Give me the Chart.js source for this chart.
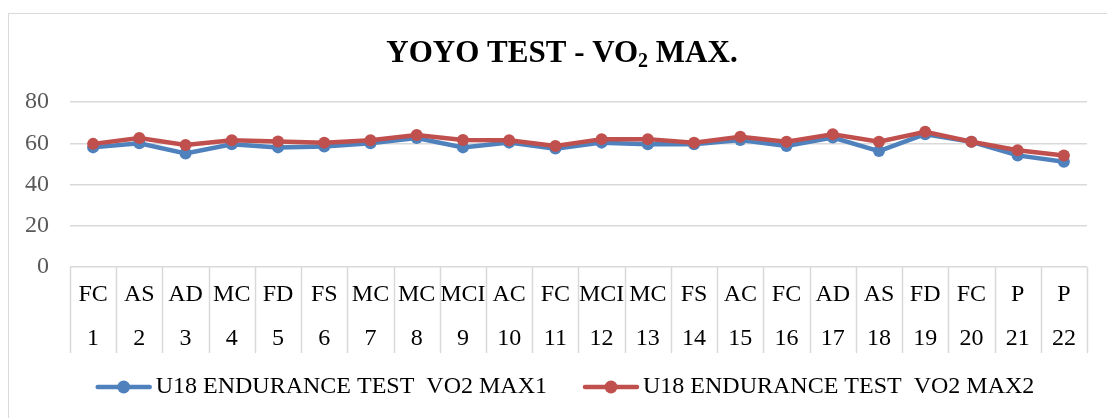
<!DOCTYPE html>
<html>
<head>
<meta charset="utf-8">
<script src="https://cdn.jsdelivr.net/npm/chart.js@4"></script>
<style>
  html, body { margin: 0; padding: 0; background: #fff; overflow: hidden; }
  #wrap { position: relative; width: 1107px; height: 418px; }
  #frame { position: absolute; left: 8px; top: 13px; width: 1200px; height: 500px; border: 1px solid #d9d9d9; }
  #chart { position: absolute; left: 0; top: 0; }
</style>
</head>
<body>
<div id="wrap">
  <div id="frame"></div>
  <canvas id="chart" width="1107" height="418"></canvas>
</div>
<script>
// Data
const positions = ['FC', 'AS', 'AD', 'MC', 'FD', 'FS', 'MC', 'MC', 'MCI', 'AC', 'FC',
  'MCI', 'MC', 'FS', 'AC', 'FC', 'AD', 'AS', 'FD', 'FC', 'P', 'P'];
const players = ['1', '2', '3', '4', '5', '6', '7', '8', '9', '10', '11',
  '12', '13', '14', '15', '16', '17', '18', '19', '20', '21', '22'];
const vo2Max1 = [58, 60, 55, 59.5, 58, 58.4, 60, 62.5, 58, 60.3, 57.4,
  60.3, 59.5, 59.5, 61.6, 58.7, 62.8, 56.2, 64.4, 60.7, 54.1, 51];
const vo2Max2 = [59.7, 62.5, 59.2, 61.5, 60.8, 60.3, 61.5, 64, 61.6, 61.5, 58.7,
  62, 62, 60.3, 63.1, 60.7, 64.4, 60.7, 65.6, 60.7, 56.6, 54.1];
const yTicks = [0, 20, 40, 60, 80];

const FONT = '"Liberation Serif", "Times New Roman", serif';
const BLUE = '#4f81bd';
const RED = '#c0504d';
const GRID = '#d9d9d9';

const labels = positions.map((p, i) => [p, players[i]]);

// Title with subscript 2
const titlePlugin = {
  id: 'titleSub',
  afterDraw(chart) {
    const ctx = chart.ctx;
    const parts = [
      { t: 'YOYO TEST - VO', size: 31, dy: 0 },
      { t: '2', size: 20, dy: 5 },
      { t: ' MAX.', size: 31, dy: 0 }
    ];
    ctx.save();
    ctx.fillStyle = '#000';
    ctx.textBaseline = 'alphabetic';
    let total = 0;
    parts.forEach(p => {
      ctx.font = `bold ${p.size}px ${FONT}`;
      p.w = ctx.measureText(p.t).width;
      total += p.w;
    });
    let x = 562 - total / 2;
    parts.forEach(p => {
      ctx.font = `bold ${p.size}px ${FONT}`;
      ctx.fillText(p.t, x, 62 + p.dy);
      x += p.w;
    });
    ctx.restore();
  }
};

// Vertical separators in the category label area
const separatorPlugin = {
  id: 'separators',
  afterDraw(chart) {
    const xs = chart.scales.x;
    const ctx = chart.ctx;
    const step = xs.getPixelForValue(1) - xs.getPixelForValue(0);
    const x0 = xs.getPixelForValue(0) - step / 2;
    ctx.save();
    ctx.strokeStyle = GRID;
    ctx.lineWidth = 1.5;
    for (let i = 0; i <= labels.length; i++) {
      const x = Math.round(x0 + i * step) + 0.5;
      ctx.beginPath();
      ctx.moveTo(x, xs.top);
      ctx.lineTo(x, xs.bottom);
      ctx.stroke();
    }
    ctx.restore();
  }
};

// Legend: line with circle marker, then label
const legendPlugin = {
  id: 'lineLegend',
  afterDraw(chart) {
    const ctx = chart.ctx;
    const sets = chart.data.datasets;
    const lineLen = 56, textGap = 4, itemGap = 36, y = 387;
    ctx.save();
    ctx.font = `24px ${FONT}`;
    const widths = sets.map(d => lineLen + textGap + ctx.measureText(d.label).width);
    const total = widths.reduce((a, b) => a + b, 0) + itemGap * (sets.length - 1);
    let x = 565 - total / 2;
    sets.forEach((d, i) => {
      ctx.strokeStyle = d.borderColor;
      ctx.lineWidth = 4.5;
      ctx.lineCap = 'round';
      ctx.beginPath();
      ctx.moveTo(x + 2, y);
      ctx.lineTo(x + lineLen - 2, y);
      ctx.stroke();
      ctx.fillStyle = d.borderColor;
      ctx.beginPath();
      ctx.arc(x + lineLen / 2, y, 6.5, 0, Math.PI * 2);
      ctx.fill();
      ctx.fillStyle = '#000';
      ctx.textBaseline = 'middle';
      ctx.fillText(d.label, x + lineLen + textGap, y);
      x += widths[i] + itemGap;
    });
    ctx.restore();
  }
};

new Chart(document.getElementById('chart'), {
  type: 'line',
  data: {
    labels: labels,
    datasets: [
      {
        label: 'U18 ENDURANCE TEST  VO2 MAX1',
        data: vo2Max1,
        borderColor: BLUE,
        backgroundColor: BLUE,
        pointBackgroundColor: BLUE,
        borderWidth: 4.5,
        pointRadius: 6,
        pointBorderWidth: 0,
        tension: 0,
        order: 2
      },
      {
        label: 'U18 ENDURANCE TEST  VO2 MAX2',
        data: vo2Max2,
        borderColor: RED,
        backgroundColor: RED,
        pointBackgroundColor: RED,
        borderWidth: 4.5,
        pointRadius: 6,
        pointBorderWidth: 0,
        tension: 0,
        order: 1
      }
    ]
  },
  options: {
    responsive: false,
    animation: false,
    devicePixelRatio: 1,
    layout: { padding: { top: 102, bottom: 65, left: 0, right: 20 } },
    plugins: {
      legend: { display: false },
      title: { display: false },
      tooltip: { enabled: false }
    },
    scales: {
      x: {
        offset: true,
        grid: { display: false, drawTicks: false },
        border: { display: false },
        ticks: {
          color: '#000',
          font: { family: FONT, size: 24, lineHeight: 44 / 24 },
          padding: 6,
          maxRotation: 0,
          autoSkip: false
        },
        afterFit: (scale) => { scale.height = 86; }
      },
      y: {
        min: 0,
        max: 80,
        afterBuildTicks: (scale) => { scale.ticks = yTicks.map(v => ({ value: v })); },
        grid: { color: GRID, lineWidth: 1.5, drawTicks: false },
        border: { display: false },
        ticks: {
          color: '#595959',
          font: { family: FONT, size: 24 },
          padding: 21
        },
        afterFit: (scale) => { scale.width = 70; }
      }
    }
  },
  plugins: [separatorPlugin, titlePlugin, legendPlugin]
});
</script>
</body>
</html>
